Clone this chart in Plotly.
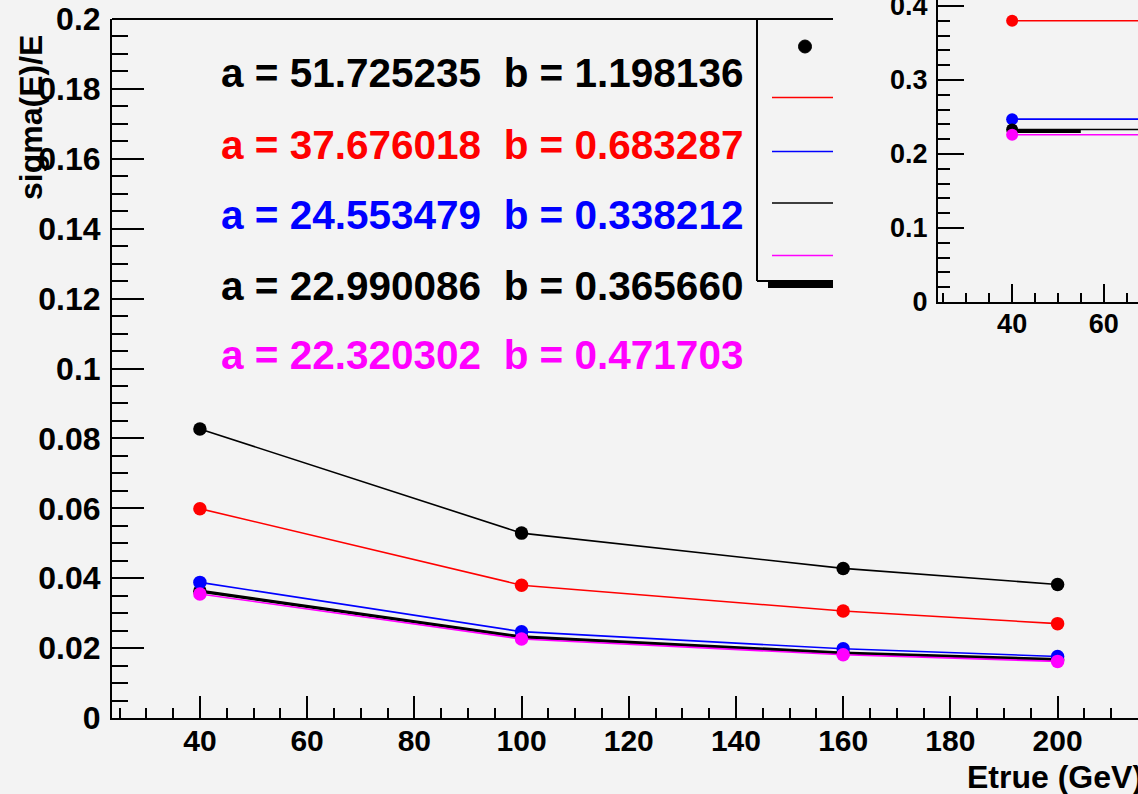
import plotly.graph_objects as go

# ---- data -------------------------------------------------------------
energy = [40, 100, 160, 200]                      # Etrue (GeV)

res_black = [0.0827, 0.0529, 0.0428, 0.0382]
res_red = [0.0599, 0.0380, 0.0306, 0.0270]
res_blue = [0.0388, 0.0247, 0.0198, 0.0176]
res_dark = [0.0363, 0.0232, 0.0186, 0.0167]
res_magenta = [0.0355, 0.0226, 0.0181, 0.0162]

fit_labels = [
    ("a = 51.725235\u00a0\u00a0b = 1.198136", "#000000"),
    ("a = 37.676018\u00a0\u00a0b = 0.683287", "#ff0000"),
    ("a = 24.553479\u00a0\u00a0b = 0.338212", "#0000ff"),
    ("a = 22.990086\u00a0\u00a0b = 0.365660", "#000000"),
    ("a = 22.320302\u00a0\u00a0b = 0.471703", "#ff00ff"),
]

# inset pad: constant terms vs energy
inset_red = [0.380, 0.380, 0.380, 0.380]
inset_blue = [0.247, 0.247, 0.247, 0.247]
inset_black = [0.233, 0.233, 0.233, 0.233]
inset_magenta = [0.226, 0.226, 0.226, 0.226]
inset_thick_x = [40, 55]
inset_thick = [0.231, 0.231]

main_xticks = [40, 60, 80, 100, 120, 140, 160, 180, 200]
main_xlabels = ["40", "60", "80", "100", "120", "140", "160", "180", "200"]
main_yticks = [0, 0.02, 0.04, 0.06, 0.08, 0.1, 0.12, 0.14, 0.16, 0.18, 0.2]
main_ylabels = ["0", "0.02", "0.04", "0.06", "0.08", "0.1", "0.12", "0.14", "0.16", "0.18", "0.2"]
inset_xticks = [40, 60, 80, 100]
inset_xlabels = ["40", "60", "80", "100"]
inset_yticks = [0, 0.1, 0.2, 0.3, 0.4]
inset_ylabels = ["0", "0.1", "0.2", "0.3", "0.4"]

# ---- layout helpers ---------------------------------------------------
W, H = 1138, 794
BG = "#f3f3f3"
FONT = "Liberation Sans, Arial, sans-serif"


def px(x):
    return x / W


def py(y):
    return 1 - y / H


fig = go.Figure()

# main pad series
main_series = [
    (res_black, "#000000", 1.6),
    (res_red, "#ff0000", 1.6),
    (res_dark, "#000000", 3.2),
    (res_blue, "#0000ff", 1.6),
    (res_magenta, "#ff00ff", 1.6),
]
for vals, col, lw in main_series:
    fig.add_trace(go.Scatter(
        x=energy, y=vals, mode="lines+markers",
        line=dict(color=col, width=lw),
        marker=dict(color=col, size=13.5, symbol="circle"),
        xaxis="x", yaxis="y", showlegend=False, hoverinfo="skip"))

# inset pad series
inset_series = [
    (energy, inset_red, "#ff0000", 1.6, True),
    (energy, inset_blue, "#0000ff", 1.6, True),
    (energy, inset_black, "#000000", 1.6, True),
    (inset_thick_x, inset_thick, "#000000", 4, False),
    (energy, inset_magenta, "#ff00ff", 1.6, True),
]
for xs, vals, col, lw, mk in inset_series:
    fig.add_trace(go.Scatter(
        x=xs, y=vals, mode="lines+markers" if mk else "lines",
        line=dict(color=col, width=lw),
        marker=dict(color=col, size=12, symbol="circle"),
        xaxis="x2", yaxis="y2", showlegend=False, hoverinfo="skip",
        cliponaxis=False))

axis_common = dict(
    showgrid=False, zeroline=False, showline=True, linecolor="black",
    linewidth=2, ticks="inside", tickcolor="black", tickwidth=2,
    tickmode="array", automargin=False, ticklabeloverflow="allow",
)

fig.update_layout(
    width=W, height=H, autosize=False,
    margin=dict(l=0, r=0, t=0, b=0, pad=0),
    paper_bgcolor=BG, plot_bgcolor=BG,
    showlegend=False,
    xaxis=dict(
        **axis_common, domain=[px(112), 1], range=[23.6, 215.0],
        anchor="y", tickvals=main_xticks, ticktext=main_xlabels, ticklen=22,
        tickfont=dict(family=FONT, size=30, color="black", weight="bold"),
        ticklabelstandoff=-5,
        minor=dict(tick0=0, dtick=5, ticklen=10, ticks="inside",
                   tickcolor="black", tickwidth=2),
    ),
    yaxis=dict(
        **axis_common, domain=[py(718), py(19)], range=[0, 0.2],
        anchor="x", tickvals=main_yticks, ticktext=main_ylabels, ticklen=32,
        tickfont=dict(family=FONT, size=32, color="black", weight="bold"),
        ticklabelstandoff=3,
        minor=dict(tick0=0, dtick=0.005, ticklen=16, ticks="inside",
                   tickcolor="black", tickwidth=2),
    ),
    xaxis2=dict(
        **axis_common, domain=[px(938), 1], range=[23.8, 67.5],
        anchor="y2", tickvals=inset_xticks, ticktext=inset_xlabels, ticklen=18,
        tickfont=dict(family=FONT, size=27, color="black", weight="bold"),
        ticklabelstandoff=-3,
        minor=dict(tick0=0, dtick=5, ticklen=9, ticks="inside",
                   tickcolor="black", tickwidth=2),
    ),
    yaxis2=dict(
        **axis_common, domain=[py(302), 1], range=[0, 0.408],
        anchor="x2", tickvals=inset_yticks, ticktext=inset_ylabels, ticklen=26,
        tickfont=dict(family=FONT, size=27, color="black", weight="bold"),
        ticklabelstandoff=3,
        minor=dict(tick0=0, dtick=0.02, ticklen=12, ticks="inside",
                   tickcolor="black", tickwidth=2),
    ),
)


def seg(x0, y0, x1, y1, color="black", width=2):
    return dict(type="line", xref="paper", yref="paper",
                x0=px(x0), y0=py(y0), x1=px(x1), y1=py(y1),
                line=dict(color=color, width=width), layer="above")


shapes = [
    # top edge of the main frame (right part hidden by the inset pad)
    seg(112, 19, 833, 19),
    # legend box
    seg(757, 19, 757, 281),
    seg(757, 281, 833, 281),
    # legend entries
    seg(772, 97.5, 833, 97.5, "#ff0000", 1.6),
    seg(772, 151.5, 833, 151.5, "#0000ff", 1.6),
    seg(772, 203, 833, 203, "#000000", 1.6),
    seg(772, 255.5, 833, 255.5, "#ff00ff", 1.6),
    seg(768, 285, 833, 285, "#000000", 6),
    dict(type="circle", xref="paper", yref="paper",
         x0=px(798.5), x1=px(811.5), y0=py(53), y1=py(40),
         fillcolor="black", line=dict(color="black", width=1), layer="above"),
]
fig.update_layout(shapes=shapes)

annotations = []
row_y = [73, 145, 215, 286, 355]
for (txt, col), yy in zip(fit_labels, row_y):
    annotations.append(dict(
        text=txt, xref="paper", yref="paper", x=px(219), y=py(yy),
        xanchor="left", yanchor="middle", showarrow=False,
        font=dict(family=FONT, size=40.5, color=col, weight="bold")))

annotations.append(dict(
    text="sigma(E)/E", xref="paper", yref="paper", x=px(31), y=py(118),
    xanchor="center", yanchor="middle", textangle=-90, showarrow=False,
    font=dict(family=FONT, size=32, color="black", weight="bold")))
annotations.append(dict(
    text="Etrue (GeV)", xref="paper", yref="paper", x=px(1145), y=py(777),
    xanchor="right", yanchor="middle", showarrow=False,
    font=dict(family=FONT, size=32, color="black", weight="bold")))
fig.update_layout(annotations=annotations)

fig.write_html("out.html", config={"displayModeBar": False})
